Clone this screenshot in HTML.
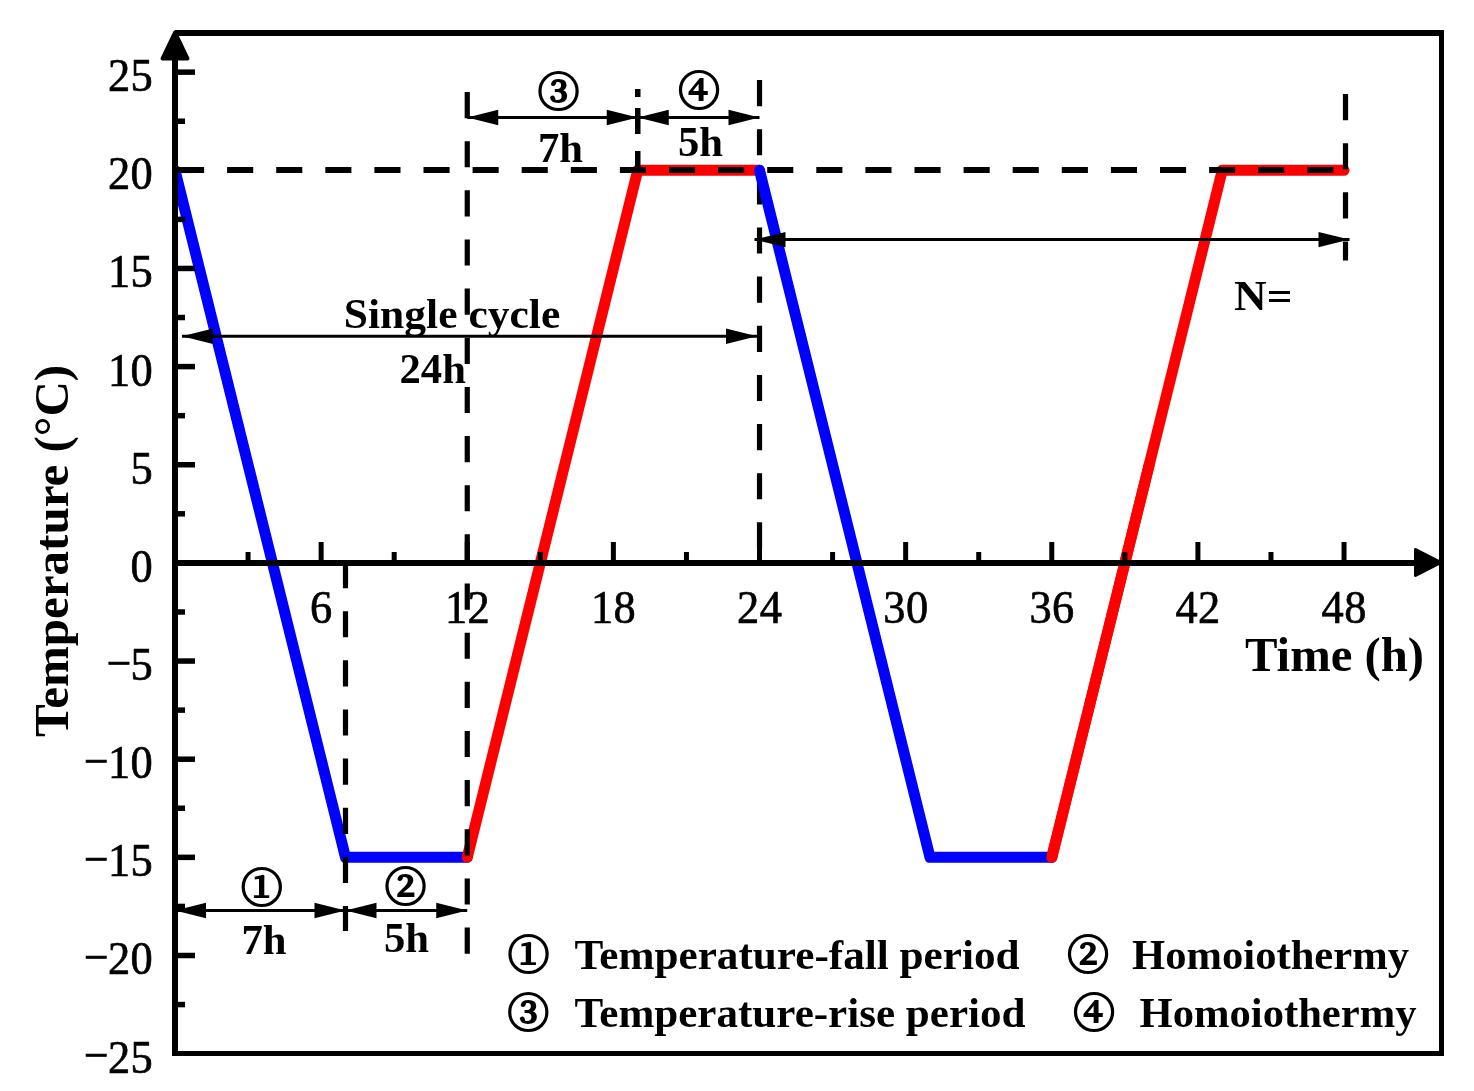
<!DOCTYPE html>
<html lang="en"><head><meta charset="utf-8"><title>Temperature cycle</title>
<style>
html,body{margin:0;padding:0;background:#fff;}
body{width:1474px;height:1091px;overflow:hidden;}
svg{display:block;}
.tick{font-family:"Liberation Serif", serif;font-size:47px;fill:#000;stroke:#000;stroke-width:0.7px;letter-spacing:0.4px;}
.b{font-family:"Liberation Serif", serif;font-weight:bold;fill:#000;}
.c{font-family:"Liberation Serif", "Noto Serif CJK SC", serif;font-weight:500;fill:#000;stroke:#000;stroke-width:1.9px;}
</style></head><body>
<svg width="1474" height="1091" viewBox="0 0 1474 1091">
<rect width="1474" height="1091" fill="#fff"/>
<clipPath id="cl"><rect x="175" y="0" width="1300" height="1091"/></clipPath>
<g clip-path="url(#cl)">
<polyline points="175.0,170.3 345.49,857.35 467.26,857.35" fill="none" stroke="#0000ff" stroke-width="11" stroke-linecap="round" stroke-linejoin="round"/>
</g>
<polyline points="467.26,857.35 637.75,170.3 759.52,170.3" fill="none" stroke="#ff0000" stroke-width="11" stroke-linecap="round" stroke-linejoin="round"/>
<polyline points="1051.78,857.35 1222.27,170.3 1344.04,170.3" fill="none" stroke="#ff0000" stroke-width="11" stroke-linecap="round" stroke-linejoin="round"/>
<line x1="178" y1="170" x2="1344.04" y2="170" stroke="#000" stroke-width="6" stroke-dasharray="26.1 23"/>
<line x1="345.49" y1="562" x2="345.49" y2="931" stroke="#000" stroke-width="5.2" fill="none" stroke-dasharray="26.15 23"/>
<line x1="467.26" y1="92" x2="467.26" y2="954.5" stroke="#000" stroke-width="5.2" fill="none" stroke-dasharray="26.15 23"/>
<line x1="759.52" y1="80" x2="759.52" y2="563" stroke="#000" stroke-width="5.2" fill="none" stroke-dasharray="26.15 23"/>
<line x1="1345.5" y1="94" x2="1345.5" y2="260.5" stroke="#000" stroke-width="5.2" fill="none" stroke-dasharray="26.15 23"/>
<line x1="637.75" y1="89" x2="637.75" y2="97" stroke="#000" stroke-width="5.5"/>
<line x1="637.75" y1="108" x2="637.75" y2="134" stroke="#000" stroke-width="5.5"/>
<line x1="637.75" y1="151" x2="637.75" y2="173" stroke="#000" stroke-width="5.5"/>
<polyline points="759.52,170.3 930.0,857.35 1051.78,857.35" fill="none" stroke="#0000ff" stroke-width="11" stroke-linecap="round" stroke-linejoin="round"/>
<polyline points="1051.78,857.35 1149.2,464.75" fill="none" stroke="#ff0000" stroke-width="11" stroke-linecap="round" stroke-linejoin="round"/>
<g stroke="#000" fill="none">
<line x1="175" y1="33" x2="1444" y2="33" stroke-width="6"/>
<line x1="1441.5" y1="30" x2="1441.5" y2="1056" stroke-width="5"/>
<line x1="172" y1="1053.5" x2="1444" y2="1053.5" stroke-width="5"/>
<line x1="175" y1="40" x2="175" y2="1056" stroke-width="6"/>
<line x1="172" y1="563" x2="1420" y2="563" stroke-width="6"/>
<line x1="175" y1="1004.57" x2="185" y2="1004.57" stroke-width="5.5"/>
<line x1="175" y1="955.5" x2="195" y2="955.5" stroke-width="5.5"/>
<line x1="175" y1="906.42" x2="185" y2="906.42" stroke-width="5.5"/>
<line x1="175" y1="857.35" x2="195" y2="857.35" stroke-width="5.5"/>
<line x1="175" y1="808.27" x2="185" y2="808.27" stroke-width="5.5"/>
<line x1="175" y1="759.2" x2="195" y2="759.2" stroke-width="5.5"/>
<line x1="175" y1="710.12" x2="185" y2="710.12" stroke-width="5.5"/>
<line x1="175" y1="661.05" x2="195" y2="661.05" stroke-width="5.5"/>
<line x1="175" y1="611.98" x2="185" y2="611.98" stroke-width="5.5"/>
<line x1="175" y1="562.9" x2="195" y2="562.9" stroke-width="5.5"/>
<line x1="175" y1="513.82" x2="185" y2="513.82" stroke-width="5.5"/>
<line x1="175" y1="464.75" x2="195" y2="464.75" stroke-width="5.5"/>
<line x1="175" y1="415.67" x2="185" y2="415.67" stroke-width="5.5"/>
<line x1="175" y1="366.6" x2="195" y2="366.6" stroke-width="5.5"/>
<line x1="175" y1="317.52" x2="185" y2="317.52" stroke-width="5.5"/>
<line x1="175" y1="268.45" x2="195" y2="268.45" stroke-width="5.5"/>
<line x1="175" y1="219.38" x2="185" y2="219.38" stroke-width="5.5"/>
<line x1="175" y1="170.3" x2="195" y2="170.3" stroke-width="5.5"/>
<line x1="175" y1="121.23" x2="185" y2="121.23" stroke-width="5.5"/>
<line x1="175" y1="72.15" x2="195" y2="72.15" stroke-width="5.5"/>
<line x1="248.06" y1="563" x2="248.06" y2="552" stroke-width="5"/>
<line x1="321.13" y1="563" x2="321.13" y2="542" stroke-width="5"/>
<line x1="394.19" y1="563" x2="394.19" y2="552" stroke-width="5"/>
<line x1="467.26" y1="563" x2="467.26" y2="542" stroke-width="5"/>
<line x1="540.33" y1="563" x2="540.33" y2="552" stroke-width="5"/>
<line x1="613.39" y1="563" x2="613.39" y2="542" stroke-width="5"/>
<line x1="686.45" y1="563" x2="686.45" y2="552" stroke-width="5"/>
<line x1="759.52" y1="563" x2="759.52" y2="542" stroke-width="5"/>
<line x1="832.59" y1="563" x2="832.59" y2="552" stroke-width="5"/>
<line x1="905.65" y1="563" x2="905.65" y2="542" stroke-width="5"/>
<line x1="978.72" y1="563" x2="978.72" y2="552" stroke-width="5"/>
<line x1="1051.78" y1="563" x2="1051.78" y2="542" stroke-width="5"/>
<line x1="1124.85" y1="563" x2="1124.85" y2="552" stroke-width="5"/>
<line x1="1197.91" y1="563" x2="1197.91" y2="542" stroke-width="5"/>
<line x1="1270.97" y1="563" x2="1270.97" y2="552" stroke-width="5"/>
<line x1="1344.04" y1="563" x2="1344.04" y2="542" stroke-width="5"/>
</g>
<polygon points="175,32.5 187.5,58.5 162.5,58.5" fill="#000" stroke="#000" stroke-width="4" stroke-linejoin="round"/>
<polygon points="1441,562.5 1415.5,549.5 1415.5,575.5" fill="#000" stroke="#000" stroke-width="3" stroke-linejoin="round"/>
<line x1="467.26" y1="117.5" x2="637.75" y2="117.5" stroke="#000" stroke-width="3"/>
<polygon points="467.26,117.5 498.26,109.8 498.26,125.2" fill="#000"/>
<polygon points="637.75,117.5 606.75,109.8 606.75,125.2" fill="#000"/>
<line x1="637.75" y1="117.5" x2="759.52" y2="117.5" stroke="#000" stroke-width="3"/>
<polygon points="637.75,117.5 668.75,109.8 668.75,125.2" fill="#000"/>
<polygon points="759.52,117.5 728.52,109.8 728.52,125.2" fill="#000"/>
<line x1="754.5" y1="239.6" x2="1349.5" y2="239.6" stroke="#000" stroke-width="3"/>
<polygon points="754.5,239.6 785.5,231.9 785.5,247.29999999999998" fill="#000"/>
<polygon points="1349.5,239.6 1318.5,231.9 1318.5,247.29999999999998" fill="#000"/>
<line x1="182" y1="336.3" x2="757" y2="336.3" stroke="#000" stroke-width="3"/>
<polygon points="182,336.3 213,328.6 213,344.0" fill="#000"/>
<polygon points="757,336.3 726,328.6 726,344.0" fill="#000"/>
<line x1="175" y1="910.5" x2="345.49" y2="910.5" stroke="#000" stroke-width="3"/>
<polygon points="175,910.5 206,902.8 206,918.2" fill="#000"/>
<polygon points="345.49,910.5 314.49,902.8 314.49,918.2" fill="#000"/>
<line x1="345.49" y1="910.5" x2="467.26" y2="910.5" stroke="#000" stroke-width="3"/>
<polygon points="345.49,910.5 376.49,902.8 376.49,918.2" fill="#000"/>
<polygon points="467.26,910.5 436.26,902.8 436.26,918.2" fill="#000"/>
<text class="tick" transform="translate(153.1 91.1) scale(0.945 1)" text-anchor="end">25</text>
<text class="tick" transform="translate(153.1 189.2) scale(0.945 1)" text-anchor="end">20</text>
<text class="tick" transform="translate(153.1 287.3) scale(0.945 1)" text-anchor="end">15</text>
<text class="tick" transform="translate(153.1 385.5) scale(0.945 1)" text-anchor="end">10</text>
<text class="tick" transform="translate(153.1 483.6) scale(0.945 1)" text-anchor="end">5</text>
<text class="tick" transform="translate(153.1 581.8) scale(0.945 1)" text-anchor="end">0</text>
<text class="tick" transform="translate(153.1 679.9) scale(0.945 1)" text-anchor="end">5</text>
<text class="tick" x="119.2" y="678.5" text-anchor="middle" letter-spacing="0" stroke-width="2" textLength="25" lengthAdjust="spacingAndGlyphs">−</text>
<text class="tick" transform="translate(153.1 778.1) scale(0.945 1)" text-anchor="end">10</text>
<text class="tick" x="96.6" y="776.7" text-anchor="middle" letter-spacing="0" stroke-width="2" textLength="25" lengthAdjust="spacingAndGlyphs">−</text>
<text class="tick" transform="translate(153.1 876.2) scale(0.945 1)" text-anchor="end">15</text>
<text class="tick" x="96.6" y="874.8" text-anchor="middle" letter-spacing="0" stroke-width="2" textLength="25" lengthAdjust="spacingAndGlyphs">−</text>
<text class="tick" transform="translate(153.1 974.4) scale(0.945 1)" text-anchor="end">20</text>
<text class="tick" x="96.6" y="973.0" text-anchor="middle" letter-spacing="0" stroke-width="2" textLength="25" lengthAdjust="spacingAndGlyphs">−</text>
<text class="tick" transform="translate(153.1 1072.6) scale(0.945 1)" text-anchor="end">25</text>
<text class="tick" x="96.6" y="1071.2" text-anchor="middle" letter-spacing="0" stroke-width="2" textLength="25" lengthAdjust="spacingAndGlyphs">−</text>
<text class="tick" transform="translate(321.3 622.8) scale(0.945 1)" text-anchor="middle">6</text>
<text class="tick" transform="translate(467.5 622.8) scale(0.945 1)" text-anchor="middle">12</text>
<text class="tick" transform="translate(613.6 622.8) scale(0.945 1)" text-anchor="middle">18</text>
<text class="tick" transform="translate(759.7 622.8) scale(0.945 1)" text-anchor="middle">24</text>
<text class="tick" transform="translate(905.9 622.8) scale(0.945 1)" text-anchor="middle">30</text>
<text class="tick" transform="translate(1052.0 622.8) scale(0.945 1)" text-anchor="middle">36</text>
<text class="tick" transform="translate(1198.1 622.8) scale(0.945 1)" text-anchor="middle">42</text>
<text class="tick" transform="translate(1344.2 622.8) scale(0.945 1)" text-anchor="middle">48</text>
<text class="b" font-size="48" text-anchor="middle" textLength="372" lengthAdjust="spacingAndGlyphs" transform="translate(68 550.9) rotate(-90)">Temperature (°C)</text>
<text class="b" font-size="48" x="1245" y="671" textLength="179" lengthAdjust="spacingAndGlyphs">Time (h)</text>
<text class="b" font-size="42.67" x="343.8" y="327.5" textLength="216.5" lengthAdjust="spacingAndGlyphs">Single cycle</text>
<text class="b" font-size="42.67" x="399.5" y="383">24h</text>
<text class="b" font-size="42.67" x="538" y="162">7h</text>
<text class="b" font-size="42.67" x="678" y="155.5">5h</text>
<text class="b" font-size="42.67" x="241.5" y="953.7">7h</text>
<text class="b" font-size="42.67" x="384" y="952">5h</text>
<text class="b" font-size="42.67" x="1234" y="309.8" textLength="58.4" lengthAdjust="spacingAndGlyphs">N=</text>
<text class="c" font-size="41" transform="translate(558.5 91) scale(1.015 0.98)" x="0" y="15.66" text-anchor="middle">③</text>
<text class="c" font-size="41" transform="translate(699 89.3) scale(1.015 0.98)" x="0" y="15.66" text-anchor="middle">④</text>
<text class="c" font-size="41" transform="translate(261.8 887) scale(1.015 0.98)" x="0" y="15.66" text-anchor="middle">①</text>
<text class="c" font-size="41" transform="translate(405.5 886) scale(1.015 0.98)" x="0" y="15.66" text-anchor="middle">②</text>
<text class="c" font-size="41" transform="translate(528.6 954) scale(1.015 0.98)" x="0" y="15.66" text-anchor="middle">①</text>
<text class="b" font-size="42.67" x="574.5" y="969" textLength="445" lengthAdjust="spacingAndGlyphs">Temperature-fall period</text>
<text class="c" font-size="41" transform="translate(1088 953.7) scale(1.015 0.98)" x="0" y="15.66" text-anchor="middle">②</text>
<text class="b" font-size="42.67" x="1132" y="969" textLength="277" lengthAdjust="spacingAndGlyphs">Homoiothermy</text>
<text class="c" font-size="41" transform="translate(528.2 1011.9) scale(1.015 0.98)" x="0" y="15.66" text-anchor="middle">③</text>
<text class="b" font-size="42.67" x="574.5" y="1027" textLength="451" lengthAdjust="spacingAndGlyphs">Temperature-rise period</text>
<text class="c" font-size="41" transform="translate(1094 1011.8) scale(1.015 0.98)" x="0" y="15.66" text-anchor="middle">④</text>
<text class="b" font-size="42.67" x="1139.5" y="1027" textLength="277" lengthAdjust="spacingAndGlyphs">Homoiothermy</text>
</svg>
</body></html>
